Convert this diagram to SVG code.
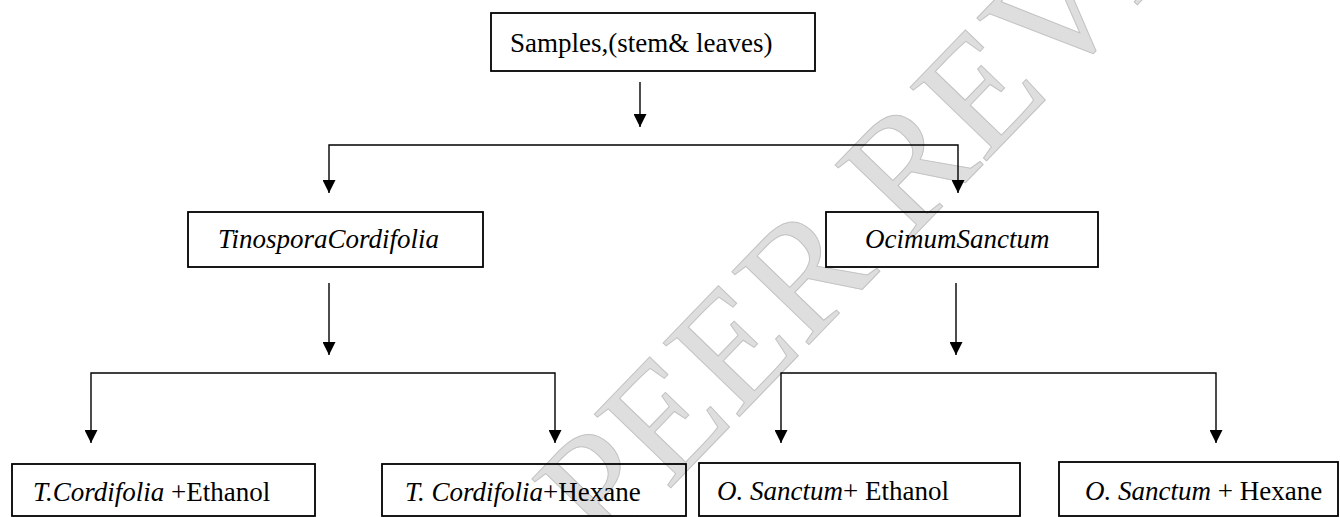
<svg xmlns="http://www.w3.org/2000/svg" width="1340" height="517" viewBox="0 0 1340 517">
<style>
.box{fill:none;stroke:#000;stroke-width:1.8}
.lbl{font-family:"Liberation Serif","Times New Roman",serif;font-size:27px;fill:#000}
.it{font-style:italic}
.conn{fill:none;stroke:#000;stroke-width:1.4}
.wm{font-family:"Liberation Serif","Times New Roman",serif;font-size:162px;fill:#dedede;stroke:#c2c2c2;stroke-width:1}
</style>
<defs>
<marker id="ah" markerUnits="userSpaceOnUse" markerWidth="13" markerHeight="13" viewBox="0 0 13 13" refX="13" refY="6.5" orient="auto">
<path d="M0,0 L13,6.5 L0,13 z" fill="#000"/>
</marker>
</defs>
<rect width="1340" height="517" fill="#fff"/>
<g id="watermark">
<text class="wm" x="605" y="556" transform="rotate(-46 605 556)">PEER REVIEW</text>
</g>
<g id="connectors">
<path class="conn" d="M640,82 V127" marker-end="url(#ah)"/>
<path class="conn" d="M640,145 H329 V193" marker-end="url(#ah)"/>
<path class="conn" d="M640,145 H958 V193" marker-end="url(#ah)"/>
<path class="conn" d="M329,283 V355" marker-end="url(#ah)"/>
<path class="conn" d="M956,283 V355" marker-end="url(#ah)"/>
<path class="conn" d="M329,373 H91 V443" marker-end="url(#ah)"/>
<path class="conn" d="M329,373 H555 V443" marker-end="url(#ah)"/>
<path class="conn" d="M956,373 H781 V443" marker-end="url(#ah)"/>
<path class="conn" d="M956,373 H1216 V443" marker-end="url(#ah)"/>
</g>
<g id="samples">
<rect class="box" x="491" y="13" width="324" height="58"/>
<text class="lbl" x="510" y="52">Samples,(stem&amp; leaves)</text>
</g>
<g id="tinospora">
<rect class="box" x="188" y="212" width="295" height="55"/>
<text class="lbl it" x="218" y="248">TinosporaCordifolia</text>
</g>
<g id="ocimum">
<rect class="box" x="826" y="212" width="272" height="55"/>
<text class="lbl it" x="865" y="248">OcimumSanctum</text>
</g>
<g id="tc-ethanol">
<rect class="box" x="12" y="464" width="303" height="52"/>
<text class="lbl" x="33" y="501"><tspan class="it">T.Cordifolia</tspan> +Ethanol</text>
</g>
<g id="tc-hexane">
<rect class="box" x="382" y="464" width="304" height="52"/>
<text class="lbl" x="405" y="501"><tspan class="it">T. Cordifolia</tspan>+Hexane</text>
</g>
<g id="os-ethanol">
<rect class="box" x="699" y="463" width="321" height="53"/>
<text class="lbl" x="717" y="500"><tspan class="it">O. Sanctum</tspan>+ Ethanol</text>
</g>
<g id="os-hexane">
<rect class="box" x="1059" y="462" width="279" height="54"/>
<text class="lbl" x="1085" y="500"><tspan class="it">O. Sanctum</tspan> + Hexane</text>
</g>
</svg>
